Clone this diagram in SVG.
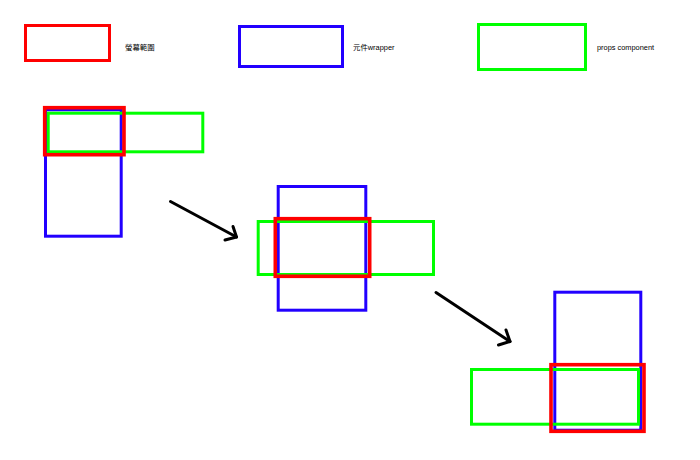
<svg xmlns="http://www.w3.org/2000/svg" width="700" height="460" viewBox="0 0 700 460">
<style>
.r{fill:none;stroke:#ff0000;stroke-width:3.6}
.b{fill:none;stroke:#2200ff;stroke-width:3}
.g{fill:none;stroke:#00ff00;stroke-width:3}
.t{font-family:"Liberation Sans","Noto Sans CJK TC",sans-serif;font-size:7.4px;fill:#000}
.a{fill:none;stroke:#000;stroke-width:3;stroke-linecap:round;stroke-linejoin:round}
</style>
<rect width="700" height="460" fill="#fff"/>
<g id="legend-screen">
<rect class="r" style="stroke-width:3" x="25.5" y="25.5" width="84" height="35"/>
<text class="t" x="125" y="49.5">螢幕範圍</text>
</g>
<g id="legend-wrapper">
<rect class="b" x="239.5" y="26.5" width="103" height="40"/>
<text class="t" x="353" y="49.5">元件wrapper</text>
</g>
<g id="legend-props">
<rect class="g" x="478.5" y="24.5" width="107" height="45"/>
<text class="t" x="597" y="49.5">props component</text>
</g>
<g id="state1">
<rect class="b" x="45.5" y="109.8" width="75.7" height="126.4"/>
<rect class="g" x="48.2" y="113.2" width="154.6" height="38.6"/>
<rect class="r" x="44.7" y="107.7" width="79.3" height="47"/>
</g>
<g id="state2">
<rect class="b" x="278.2" y="186.5" width="87.6" height="123.7"/>
<rect class="g" x="258.2" y="221.5" width="175.3" height="53"/>
<rect class="r" x="275.3" y="218.7" width="94.4" height="57.6"/>
</g>
<g id="state3">
<rect class="b" x="554.8" y="292.2" width="86" height="138"/>
<rect class="g" x="471.5" y="369.5" width="167" height="54.7"/>
<rect class="r" x="551" y="364.7" width="93" height="66.6"/>
</g>
<g id="connectors">
<path class="a" d="M170.5,201.5 L236.5,237"/>
<path class="a" d="M225,240 L236.5,237 L233,226.5"/>
<path class="a" d="M436,292.5 L510,341.5"/>
<path class="a" d="M498.5,345 L510,341.5 L506,330"/>
</g>
</svg>
